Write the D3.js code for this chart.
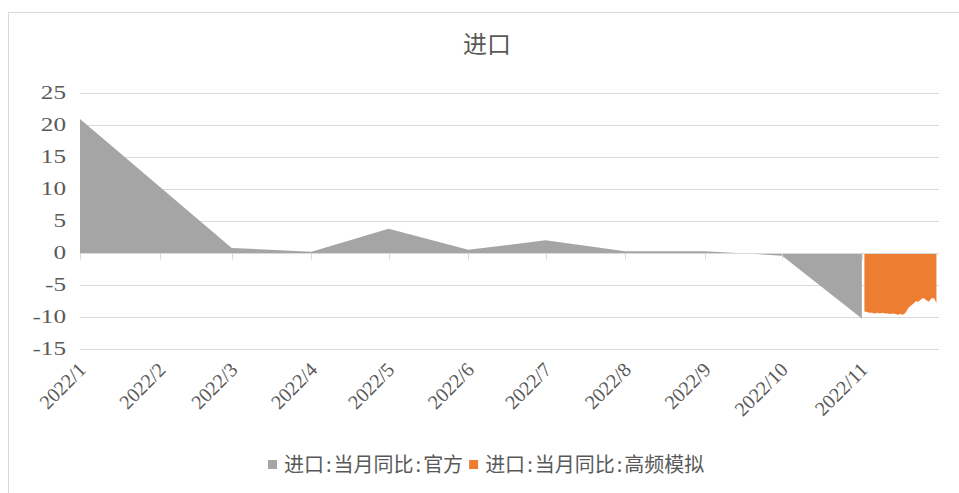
<!DOCTYPE html>
<html>
<head>
<meta charset="utf-8">
<script src="https://cdn.jsdelivr.net/npm/d3@7"></script>
<style>
  html, body { margin: 0; padding: 0; background: #fff; }
  svg { display: block; }
  .serif { font-family: "Liberation Serif", "Times New Roman", "DejaVu Serif", serif; }
  .cjk { font-family: "Noto Sans CJK SC", "Noto Sans", sans-serif; }
</style>
</head>
<body>
<svg id="chart" width="959" height="493"></svg>
<script>
// Monthly official import growth (YoY, %), dated at the first of each month
const officialDates = ["2022-01-01","2022-03-01","2022-04-01","2022-05-01","2022-06-01",
                       "2022-07-01","2022-08-01","2022-09-01","2022-10-01","2022-11-01"];
const officialValues = [20.9, 0.8, 0.2, 3.8, 0.5, 2.0, 0.3, 0.3, -0.4, -10.2];

// Daily high-frequency simulated import growth for November
const simDates = ["2022-11-02","2022-11-03","2022-11-04","2022-11-05","2022-11-06","2022-11-07",
                  "2022-11-08","2022-11-09","2022-11-10","2022-11-11","2022-11-12","2022-11-13",
                  "2022-11-14","2022-11-15","2022-11-16","2022-11-17","2022-11-18","2022-11-19",
                  "2022-11-20","2022-11-21","2022-11-22","2022-11-23","2022-11-24","2022-11-25",
                  "2022-11-26","2022-11-27","2022-11-28","2022-11-29","2022-11-30"];
const simValues = [-9.1, -9.2, -9.3, -9.3, -9.4, -9.3, -9.4, -9.3, -9.4, -9.4, -9.5, -9.4,
                   -9.5, -9.6, -9.5, -9.6, -9.3, -8.6, -8.2, -7.9, -7.5, -7.6, -7.2, -7.0,
                   -7.3, -7.6, -7.1, -7.0, -7.8];

// Axis ticks
const xTickDates = ["2022-01-01","2022-02-01","2022-03-01","2022-04-01","2022-05-01","2022-06-01",
                    "2022-07-01","2022-08-01","2022-09-01","2022-10-01","2022-11-01"];
const xTickLabels = ["2022/1","2022/2","2022/3","2022/4","2022/5","2022/6",
                     "2022/7","2022/8","2022/9","2022/10","2022/11"];
const yTicks = [-15, -10, -5, 0, 5, 10, 15, 20, 25];

const titleText = "进口";
const seriesNames = ["进口:当月同比:官方", "进口:当月同比:高频模拟"];
const seriesColors = ["#a5a5a5", "#ed7d31"];

const parse = d3.utcParse("%Y-%m-%d");
const official = officialDates.map((d, i) => ({ date: parse(d), v: officialValues[i] }));
const sim = simDates.map((d, i) => ({ date: parse(d), v: simValues[i] }));

const svg = d3.select("#chart");

// Outer chart frame
svg.append("rect")
  .attr("x", 8.5).attr("y", 12.5)
  .attr("width", 970).attr("height", 500)
  .attr("fill", "#fff").attr("stroke", "#d9d9d9").attr("stroke-width", 1);

const x = d3.scaleUtc()
  .domain([parse("2022-01-01"), parse("2022-12-01")])
  .range([80, 939]);
const y = d3.scaleLinear()
  .domain([-15, 25])
  .range([349.3, 92.7]);

// Horizontal gridlines
svg.append("g")
  .selectAll("line")
  .data(yTicks.filter(t => t !== 0))
  .join("line")
  .attr("x1", x.range()[0]).attr("x2", x.range()[1])
  .attr("y1", d => Math.round(y(d)) + 0.5).attr("y2", d => Math.round(y(d)) + 0.5)
  .attr("stroke", "#d9d9d9").attr("stroke-width", 1);

// Areas
const area = d3.area()
  .x(d => x(d.date))
  .y0(y(0))
  .y1(d => y(d.v));

svg.append("path").datum(official)
  .attr("d", area).attr("fill", seriesColors[0]);
svg.append("path").datum(sim)
  .attr("d", area).attr("fill", seriesColors[1]);

// Zero axis line with tick marks
const y0 = Math.round(y(0)) + 0.5;
svg.append("line")
  .attr("x1", x.range()[0]).attr("x2", x.range()[1])
  .attr("y1", y0).attr("y2", y0)
  .attr("stroke", "#d9d9d9").attr("stroke-width", 1);

svg.append("g")
  .selectAll("line")
  .data(xTickDates.map(parse))
  .join("line")
  .attr("x1", d => Math.round(x(d)) + 0.5).attr("x2", d => Math.round(x(d)) + 0.5)
  .attr("y1", y0).attr("y2", y0 + 6)
  .attr("stroke", "#d9d9d9").attr("stroke-width", 1);

// Y-axis labels (serif digits, set wide)
svg.append("g")
  .selectAll("text")
  .data(yTicks)
  .join("text")
  .attr("class", "serif")
  .attr("transform", d => `translate(66,${y(d)}) scale(1.4,1)`)
  .attr("dy", "0.33em")
  .attr("text-anchor", "end")
  .attr("font-size", 18)
  .attr("fill", "#595959")
  .text(d => d);

// X-axis labels, rotated
svg.append("g")
  .selectAll("text")
  .data(xTickDates.map((d, i) => ({ date: parse(d), label: xTickLabels[i] })))
  .join("text")
  .attr("class", "serif")
  .attr("transform", d => `translate(${x(d.date) + 7},${371}) rotate(-45)`)
  .attr("text-anchor", "end")
  .attr("font-size", 20)
  .attr("fill", "#595959")
  .text(d => d.label);

// Title
svg.append("text")
  .attr("class", "cjk")
  .attr("x", 487).attr("y", 53)
  .attr("text-anchor", "middle")
  .attr("font-size", 24)
  .attr("fill", "#595959")
  .text(titleText);

// Legend: swatch + name, colons given a little breathing room
const legend = svg.append("g").attr("transform", "translate(268,465)");
let lx = 0;
seriesNames.forEach((name, i) => {
  const g = legend.append("g").attr("transform", `translate(${lx},0)`);
  g.append("rect").attr("x", 0).attr("y", -5).attr("width", 9).attr("height", 9)
    .attr("fill", seriesColors[i]);
  const t = g.append("text").attr("class", "cjk")
    .attr("x", 14).attr("y", 0).attr("dy", "0.36em")
    .attr("font-size", 20)
    .attr("fill", "#595959");
  name.split(/(:)/).forEach(part => {
    t.append("tspan")
      .attr("dx", part === ":" ? 2 : (t.selectAll("tspan").size() ? 2 : 0))
      .text(part);
  });
  lx += 14 + t.node().getComputedTextLength() + 8 + 8;
});
</script>
</body>
</html>
